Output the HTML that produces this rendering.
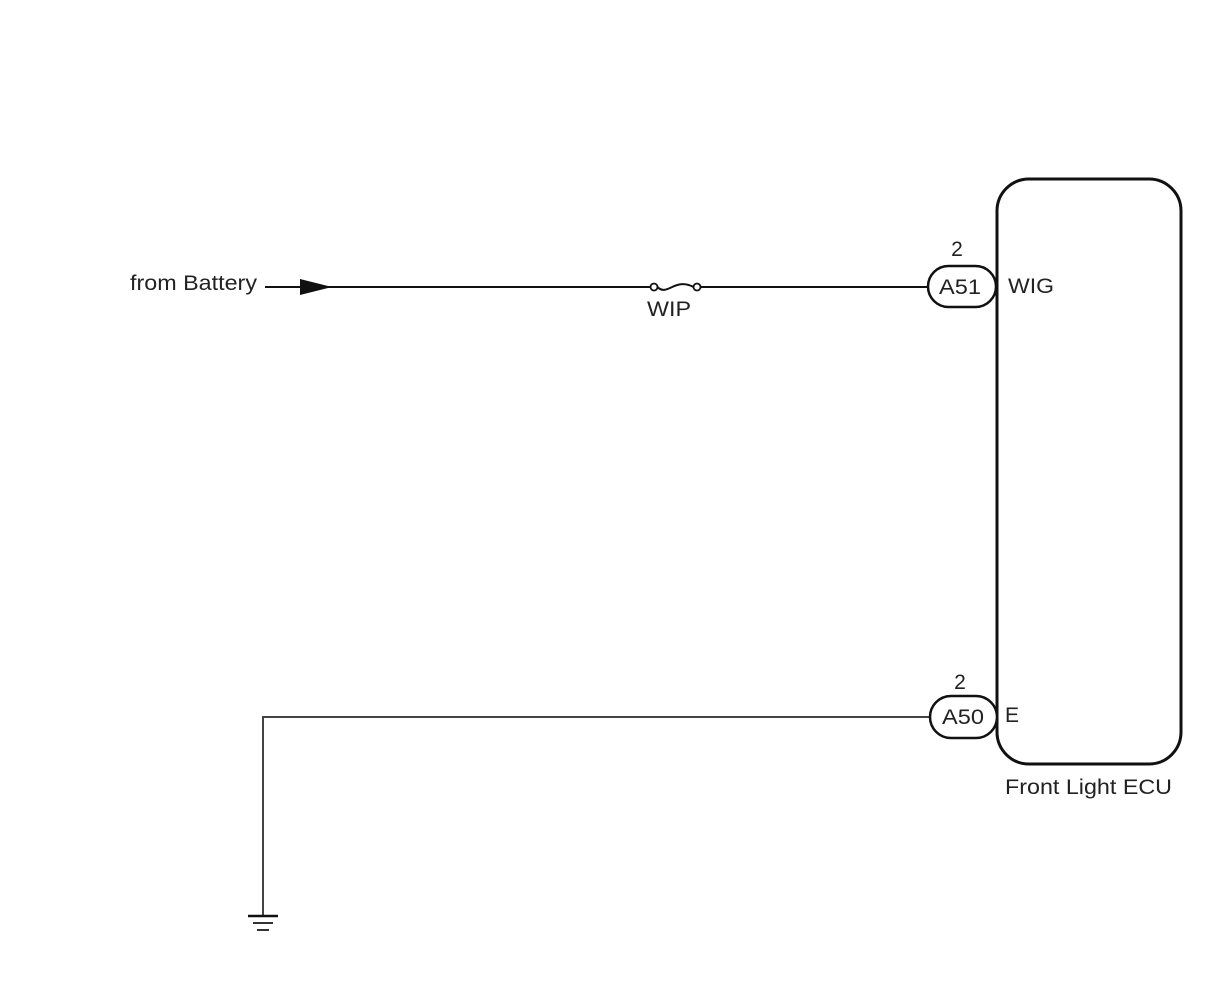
<!DOCTYPE html>
<html><head><meta charset="utf-8"><style>
html,body{margin:0;padding:0;background:#fff}
svg{display:block}
text{font-family:"Liberation Sans",Arial,sans-serif;fill:#222}
</style></head><body>
<svg width="1210" height="986" viewBox="0 0 1210 986" xmlns="http://www.w3.org/2000/svg">
<rect width="1210" height="986" fill="#fff"/>
<rect x="997" y="179" width="184" height="585" rx="32" ry="32" fill="none" stroke="#111" stroke-width="3"/>
<text x="1005" y="794" font-size="21" textLength="167" lengthAdjust="spacingAndGlyphs">Front Light ECU</text>
<text x="130" y="290" font-size="21" textLength="127" lengthAdjust="spacingAndGlyphs">from Battery</text>
<line x1="265" y1="287" x2="650" y2="287" stroke="#111" stroke-width="2"/>
<polygon points="300,279 332,287 300,295" fill="#111"/>
<circle cx="654" cy="287" r="3.5" fill="#fff" stroke="#111" stroke-width="1.8"/>
<path d="M657.5,287 C667,297 675,277 693.5,287" fill="none" stroke="#111" stroke-width="2"/>
<circle cx="697" cy="287" r="3.5" fill="#fff" stroke="#111" stroke-width="1.8"/>
<line x1="700.5" y1="287" x2="928" y2="287" stroke="#111" stroke-width="2"/>
<text x="647" y="316" font-size="21" textLength="44" lengthAdjust="spacingAndGlyphs">WIP</text>
<rect x="928" y="266" width="68" height="41" rx="20.5" fill="#fff" stroke="#111" stroke-width="2.5"/>
<text x="939" y="294" font-size="21" textLength="42" lengthAdjust="spacingAndGlyphs">A51</text>
<text x="957" y="256" font-size="21" text-anchor="middle">2</text>
<text x="1008" y="293" font-size="21" textLength="46" lengthAdjust="spacingAndGlyphs">WIG</text>
<polyline points="930,717 263,717 263,916" fill="none" stroke="#444" stroke-width="2"/>
<line x1="248" y1="916" x2="278" y2="916" stroke="#111" stroke-width="2.5"/>
<line x1="253" y1="923" x2="273" y2="923" stroke="#333" stroke-width="2"/>
<line x1="257" y1="930" x2="269" y2="930" stroke="#333" stroke-width="2"/>
<rect x="930" y="696" width="67" height="42" rx="21" fill="#fff" stroke="#111" stroke-width="2.5"/>
<text x="942" y="724" font-size="21" textLength="42" lengthAdjust="spacingAndGlyphs">A50</text>
<text x="960" y="689" font-size="21" text-anchor="middle">2</text>
<text x="1005" y="722" font-size="21">E</text>
</svg>
</body></html>
